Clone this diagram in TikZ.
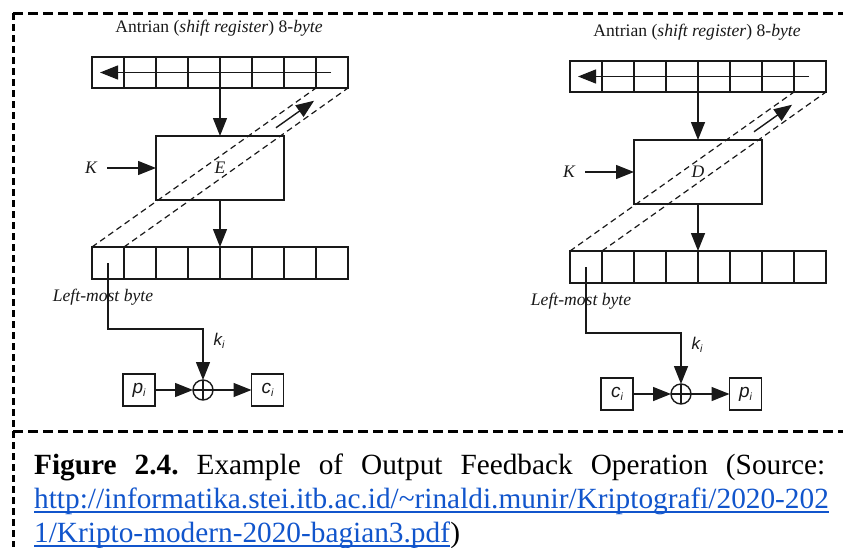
\documentclass[tikz,border=0pt]{standalone}
\usepackage{fontspec}
\setmainfont{Liberation Serif}
\newfontfamily\sansf{Liberation Sans}
\usetikzlibrary{arrows.meta,calc}
\definecolor{linkblue}{RGB}{17,85,204}
\definecolor{ink}{RGB}{25,25,25}
\newcommand\lowi{\raisebox{-3.5pt}{\fontsize{10.5}{10.5}\selectfont i}}
\newcommand\ofbdiag[4]{%
  \node[font=\fontsize{17.6}{17.6}\selectfont,text=ink,inner sep=0pt] (#1title) at (219,28) {Antrian (\textit{shift register}) 8-\textit{byte}};
  \foreach \i in {1,...,8} {
    \node[cell] (#1t\i) at ({92+32*(\i-0.5)},72.5) {};
    \node[cell,minimum height=32pt] (#1b\i) at ({92+32*(\i-0.5)},263) {};
  }
  \draw[reg] (#1t1.north west) rectangle (#1t8.south east);
  \draw[reg] (#1b1.north west) rectangle (#1b8.south east);
  \foreach \i in {1,...,7} {
    \draw[reg] (#1t\i.north east) -- (#1t\i.south east);
    \draw[reg] (#1b\i.north east) -- (#1b\i.south east);
  }
  \coordinate (#1ra) at (331,72.5);
  \coordinate (#1rb) at (100,72.5);
  \draw[arr] (#1ra) -- (#1rb);
  \node[blk] (#1E) at (220,168) {#2};
  \node[lbl] (#1K) at (91,168) {K};
  \draw[arr,shorten <=10pt] (#1K) -- (#1E);
  \draw[arr] (#1t4.south east) -- (#1E.north);
  \draw[arr] (#1E.south) -- (#1b4.north east);
  \draw[fb] (#1b1.north west) -- (#1t7.south east);
  \draw[fb] (#1b1.north east) -- (#1t8.south east);
  \draw[arr] ($(#1b1.north)!0.75!(#1t8.south)$) -- ($(#1b1.north)!0.92!(#1t8.south)$);
  \node[lbl] (#1lm) at (103,297) {Left-most byte};
  \node[xor] (#1X) at (203,390) {};
  \draw[ink,line width=1.4pt] (#1X.north) -- (#1X.south) (#1X.west) -- (#1X.east);
  \coordinate (#1c) at (203,329);
  \draw[arr] (#1b1.center) |- (#1c) -- (#1X.north);
  \node[font=\fontsize{17}{17}\sansf\itshape,text=ink,inner sep=0pt] (#1k) at (219,341) {k\lowi};
  \node[sbox] (#1P) at (139,390) {#3};
  \node[sbox] (#1C) at (267.5,390) {#4};
  \draw[arr] (#1P) -- (#1X);
  \draw[arr] (#1X) -- (#1C);
}
\begin{document}
\begin{tikzpicture}[x=1pt,y=-1pt,
  cell/.style={minimum width=32pt,minimum height=31pt,inner sep=0pt,outer sep=0pt},
  reg/.style={draw=ink,line width=1.4pt},
  blk/.style={draw=ink,line width=1.4pt,minimum width=128pt,minimum height=64pt,inner sep=0pt,outer sep=0pt,font=\fontsize{17.6}{17.6}\selectfont\itshape,text=ink},
  sbox/.style={draw=ink,line width=1.4pt,minimum width=32pt,minimum height=32pt,inner sep=0pt,outer sep=0pt,font=\fontsize{19}{19}\sansf\itshape,text=ink},
  xor/.style={draw=ink,line width=1.4pt,circle,minimum size=20pt,inner sep=0pt,outer sep=0pt},
  arr/.style={draw=ink,line width=1.4pt,-{Triangle[length=18pt,width=14pt]}},
  fb/.style={draw=ink,line width=1.2pt,dash pattern=on 6pt off 4pt},
  lbl/.style={font=\fontsize{17.6}{17.6}\selectfont\itshape,text=ink,inner sep=0pt},
  border/.style={line width=3pt,dash pattern=on 10pt off 5pt},
]
\fill[white] (0,0) rectangle (843,547);
\useasboundingbox (0,0) rectangle (843,547);
\draw[border] (13,13) -- (843,13);
\draw[border,dash pattern=on 7pt off 4pt] (13,13) -- (13,547);
\draw[border] (13,431) -- (843,431);
\begin{scope}
\ofbdiag{L}{E}{p\lowi}{c\lowi}
\end{scope}
\begin{scope}[shift={(478,4)}]
\ofbdiag{R}{D}{c\lowi}{p\lowi}
\end{scope}
\node[anchor=base west,inner sep=0pt,font=\fontsize{29.3}{29.3}\selectfont] (cap1) at (34,474) {\frenchspacing\makebox[791pt][s]{\textbf{Figure 2.4.} Example of Output Feedback Operation (Source:}};
\node[anchor=base west,inner sep=0pt,font=\fontsize{29.3}{29.3}\selectfont,text=linkblue] (cap2) at (34,508) {http://informatika.stei.itb.ac.id/\textasciitilde rinaldi.munir/Kriptografi/2020-202};
\draw[linkblue,line width=1.8pt] ($(cap2.base west)+(0,4)$) -- ($(cap2.base east)+(0,4)$);
\node[anchor=base west,inner sep=0pt,font=\fontsize{29.3}{29.3}\selectfont,text=linkblue] (cap3) at (34,542) {1/Kripto-modern-2020-bagian3.pdf};
\draw[linkblue,line width=1.8pt] ($(cap3.base west)+(0,4)$) -- ($(cap3.base east)+(0,4)$);
\node[anchor=base west,inner sep=0pt,font=\fontsize{29.3}{29.3}\selectfont] (cap3p) at (cap3.base east) {)};
\end{tikzpicture}
\end{document}
